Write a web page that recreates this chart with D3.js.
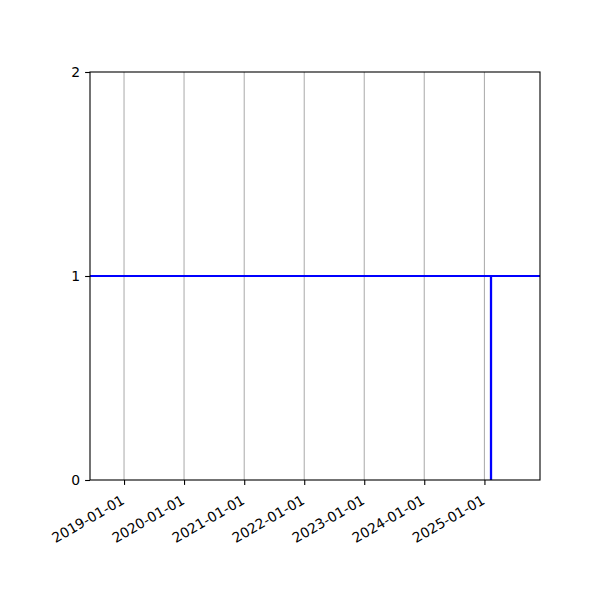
<!DOCTYPE html>
<html>
<head>
<meta charset="utf-8">
<script src="https://cdn.jsdelivr.net/npm/d3@7"></script>
<style>
  html, body { margin: 0; padding: 0; background: #fff; }
  svg { display: block; }
  text { font-family: "DejaVu Sans", sans-serif; font-size: 13.9px; fill: #000; }
</style>
</head>
<body>
<svg id="chart" width="600" height="600"></svg>
<script>
// ---- data ----
const xDomainDates = ["2018-06-08", "2025-12-05"];
const xTickLabels = ["2019-01-01", "2020-01-01", "2021-01-01", "2022-01-01", "2023-01-01", "2024-01-01", "2025-01-01"];
const yTickValues = [0, 1, 2];
const levelDates = ["2018-06-08", "2025-12-05"];
const levelValues = [1, 1];
const dropDates = ["2025-02-10", "2025-02-10"];
const dropValues = [1, 0];

// ---- layout ----
const parse = d3.utcParse("%Y-%m-%d");
const mLeft = 90, mRight = 540, mTop = 72, mBottom = 480;
const svg = d3.select("#chart");

const x = d3.scaleUtc().domain(xDomainDates.map(parse)).range([mLeft, mRight]);
const y = d3.scaleLinear().domain([0, 2]).range([mBottom, mTop]);

// grid (vertical only)
svg.append("g").selectAll("line").data(xTickLabels).join("line")
  .attr("x1", d => x(parse(d))).attr("x2", d => x(parse(d)))
  .attr("y1", mTop).attr("y2", mBottom)
  .attr("stroke", "#b0b0b0").attr("stroke-width", 1.1);

// series
const line = d3.line().x(d => x(d[0])).y(d => y(d[1]));
svg.append("path")
  .datum(dropDates.map((d, i) => [parse(d), dropValues[i]]))
  .attr("d", line).attr("fill", "none").attr("stroke", "#0000ff").attr("stroke-width", 2.3);
svg.append("path")
  .datum(levelDates.map((d, i) => [parse(d), levelValues[i]]))
  .attr("d", line).attr("fill", "none").attr("stroke", "#0000ff").attr("stroke-width", 2.2);

// x axis
const xAxis = d3.axisBottom(x)
  .tickValues(xTickLabels.map(parse))
  .tickFormat(d3.utcFormat("%Y-%m-%d"))
  .tickSize(4.9).tickPadding(4.9);
const gx = svg.append("g").attr("transform", `translate(0,${mBottom})`).call(xAxis);
gx.select(".domain").remove();
gx.selectAll(".tick line").attr("stroke", "#000").attr("stroke-width", 1.1);
gx.selectAll(".tick text")
  .attr("text-anchor", "end")
  .attr("dy", null)
  .attr("y", 0)
  .attr("transform", "translate(1,23) rotate(-30)");

// y axis
const yAxis = d3.axisLeft(y).tickValues(yTickValues).tickFormat(d3.format("d"))
  .tickSize(4.9).tickPadding(4.9);
const gy = svg.append("g").attr("transform", `translate(${mLeft},0)`).call(yAxis);
gy.select(".domain").remove();
gy.selectAll(".tick line").attr("stroke", "#000").attr("stroke-width", 1.1);
svg.selectAll("g").attr("font-size", null).attr("font-family", null);

// spines
svg.append("rect").attr("x", mLeft).attr("y", mTop).attr("width", mRight - mLeft).attr("height", mBottom - mTop)
  .attr("fill", "none").attr("stroke", "#000").attr("stroke-width", 1.1);
</script>
</body>
</html>
